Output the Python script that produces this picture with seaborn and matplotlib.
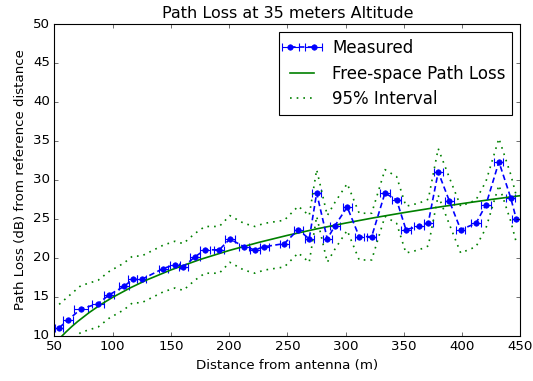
import matplotlib
matplotlib.use("Agg")
import matplotlib.pyplot as plt
import seaborn as sns

# Measured path loss relative to the reference distance
distance = [54.1, 61.8, 72.7, 87.6, 96.8, 109.7, 117.1, 124.8, 143.4, 153.4,
            160.6, 170.6, 179.2, 191.5, 200.6, 212.7, 222.1, 230.1, 247.3, 259.3,
            268.7, 275.1, 284.2, 290.8, 301.3, 311.6, 322.3, 333.7, 343.7, 351.7,
            362.9, 370.9, 379.4, 388.9, 398.7, 411.8, 420.4, 431.5, 441.6, 446.5]
path_loss = [11.0, 12.0, 13.4, 14.1, 15.2, 16.3, 17.2, 17.2, 18.6, 19.1,
             18.8, 20.1, 21.0, 21.0, 22.4, 21.4, 21.0, 21.4, 21.8, 23.6,
             22.4, 28.3, 22.4, 24.1, 26.5, 22.7, 22.7, 28.3, 27.4, 23.6,
             24.0, 24.5, 31.0, 27.3, 23.6, 24.4, 26.8, 32.3, 27.7, 24.9]
distance_err = [3.5, 4.0, 6.0, 5.0, 4.0, 4.0, 4.0, 4.0, 4.0, 4.0,
                4.0, 4.0, 4.0, 4.5, 4.0, 4.0, 4.0, 4.0, 4.0, 4.0,
                4.0, 3.6, 4.0, 4.0, 4.0, 4.0, 4.0, 4.0, 4.0, 4.0,
                4.0, 4.0, 4.0, 4.0, 4.0, 4.0, 4.0, 3.9, 4.0, 4.0]

# 95% interval bounds at the measurement distances
upper_95 = [14.0, 15.0, 16.4, 17.1, 18.2, 19.3, 20.2, 20.2, 21.6, 22.1,
            21.8, 23.1, 24.0, 24.0, 25.4, 24.4, 24.0, 24.4, 24.8, 26.6,
            25.4, 31.3, 25.4, 27.1, 29.5, 25.7, 25.7, 31.3, 30.4, 26.6,
            27.0, 27.5, 34.0, 30.3, 26.6, 27.4, 29.8, 35.3, 30.7, 27.9]
lower_95 = [8.0, 9.0, 10.4, 11.1, 12.2, 13.3, 14.2, 14.2, 15.6, 16.1,
            15.8, 17.1, 18.0, 18.0, 19.4, 18.4, 18.0, 18.4, 18.8, 20.6,
            19.4, 25.3, 19.4, 21.1, 23.5, 19.7, 19.7, 25.3, 24.4, 20.6,
            21.0, 21.5, 28.0, 24.3, 20.6, 21.4, 23.8, 29.3, 24.7, 21.9]

# Free-space model curve
model_distance = [50, 55, 60, 65, 70, 80, 90, 100, 115, 130, 150, 175, 200,
                  225, 250, 275, 300, 325, 350, 375, 400, 425, 450]
model_loss = [8.88, 9.71, 10.46, 11.16, 11.80, 12.96, 13.99, 14.90, 16.11,
              17.18, 18.42, 19.76, 20.92, 21.94, 22.86, 23.69, 24.44, 25.14,
              25.78, 26.38, 26.94, 27.47, 27.96]

x_ticks = [50, 100, 150, 200, 250, 300, 350, 400, 450]
y_ticks = [10, 15, 20, 25, 30, 35, 40, 45, 50]

plt.style.use("classic")
fig = plt.figure(figsize=(533 / 80, 381 / 80), dpi=80, facecolor="white")
ax = fig.add_axes([0.102, 0.1194, 0.8745, 0.8176])

meas = ax.errorbar(distance, path_loss, xerr=distance_err, fmt="o",
                   linestyle=(0, (5, 3)), linewidth=1.5, color="b",
                   markersize=5, markeredgecolor="b", ecolor="b",
                   elinewidth=1.0, capsize=4, capthick=1.0, label="Measured")
sns.lineplot(x=model_distance, y=model_loss, color="g", ax=ax, linewidth=1.5,
             estimator=None, sort=False, label="Free-space Path Loss")
sns.lineplot(x=distance, y=upper_95, color="g", linestyle=(0, (1.5, 4.5)),
             linewidth=1.5, ax=ax, estimator=None, sort=False,
             label="95% Interval")
sns.lineplot(x=distance, y=lower_95, color="g", linestyle=(0, (1.5, 4.5)),
             linewidth=1.5, ax=ax, estimator=None, sort=False)

ax.set_xlim(50, 450)
ax.set_ylim(10, 50)
ax.set_xticks(x_ticks)
ax.set_yticks(y_ticks)
ax.set_title("Path Loss at 35 meters Altitude")
ax.set_xlabel("Distance from antenna (m)")
ax.set_ylabel("Path Loss (dB) from reference distance")

handles, labels = ax.get_legend_handles_labels()
order = [labels.index(n) for n in ["Measured", "Free-space Path Loss", "95% Interval"]]
ax.legend([handles[i] for i in order], [labels[i] for i in order],
          loc="upper right", numpoints=2, fontsize=15, labelspacing=0.45)

fig.savefig("out.png", dpi=80, facecolor="white")
